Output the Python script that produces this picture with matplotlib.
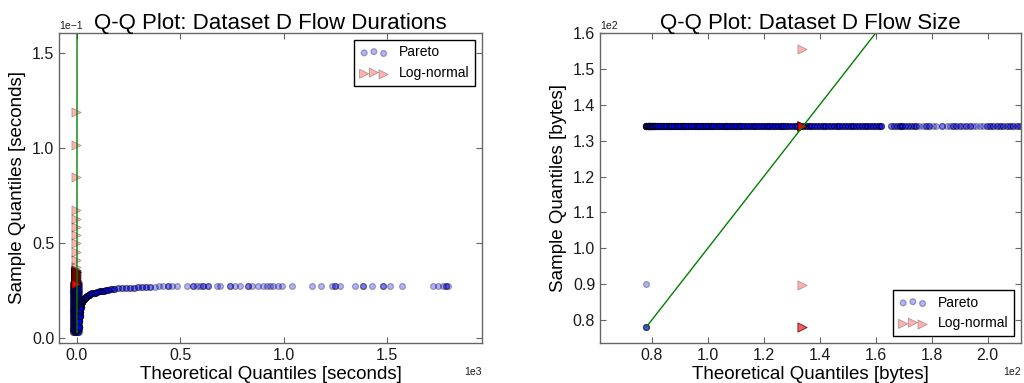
import numpy as np
import matplotlib
matplotlib.use("Agg")
import matplotlib.pyplot as plt

plt.rcParams['font.family'] = ['Liberation Sans', 'DejaVu Sans']

# ---------------- Left panel data (durations, seconds) ----------------
# dense cluster of Pareto points near x = 0
dur_band_x = [-21, -18, -15, -12, -9, -6, -3, 0, 3, 6, 9]
dur_band_y = [0.0030, 0.0040, 0.0050, 0.0060, 0.0070, 0.0080, 0.0090, 0.0100,
              0.0110, 0.0120, 0.0130, 0.0140, 0.0150, 0.0160, 0.0170, 0.0180,
              0.0190, 0.0200, 0.0210, 0.0220, 0.0230, 0.0240, 0.0250, 0.0260,
              0.0270, 0.0280, 0.0288]
# Pareto curve leaving the cluster
dur_curve_x = [11, 12, 13, 14, 15, 17, 19, 22, 26, 30, 35, 39, 45, 50, 57, 65,
               75, 87, 98, 110, 120, 130, 140, 150, 165, 180, 197, 216, 235,
               255, 275, 295, 315, 335, 355, 377, 395]
dur_curve_y = [0.0060, 0.0090, 0.0115, 0.0135, 0.0150, 0.0165, 0.0178, 0.0188,
               0.0196, 0.0202, 0.0207, 0.0212, 0.0218, 0.0222, 0.0227, 0.0231,
               0.0235, 0.0238, 0.0242, 0.0245, 0.0248, 0.0250, 0.0252, 0.0254,
               0.0257, 0.0259, 0.0261, 0.0263, 0.0264, 0.0265, 0.0266, 0.0267,
               0.0268, 0.0269, 0.0270, 0.0271, 0.0272]
dur_curve_n = [8, 8, 8, 8, 8, 8, 8, 8, 8, 7, 7, 7, 6, 6, 6, 5,
               5, 5, 4, 4, 3, 3, 3, 3, 3, 3, 2, 2, 2,
               2, 2, 2, 2, 2, 2, 1, 1]
# sparse Pareto tail
dur_tail_x = [418, 442, 458, 482, 531, 563, 579, 595, 611, 635, 676, 692, 740,
              764, 789, 829, 845, 877, 901, 918, 934, 950, 974, 990, 1039,
              1135, 1179, 1232, 1248, 1272, 1345, 1385, 1426, 1482, 1514,
              1571, 1722, 1747, 1771, 1785, 1795]
dur_tail_y = [0.0273, 0.0273, 0.0273, 0.0273, 0.0274, 0.0274, 0.0274, 0.0274,
              0.0274, 0.0274, 0.0274, 0.0274, 0.0274, 0.0274, 0.0275, 0.0275,
              0.0275, 0.0275, 0.0275, 0.0275, 0.0275, 0.0275, 0.0275, 0.0275,
              0.0275, 0.0275, 0.0275, 0.0275, 0.0275, 0.0275, 0.0275, 0.0275,
              0.0275, 0.0275, 0.0275, 0.0275, 0.0275, 0.0275, 0.0275, 0.0275,
              0.0275]
dur_tail_n = [1, 2, 1, 1, 1, 2, 1, 1, 2, 2, 1, 1, 2, 1, 1, 2, 1, 1, 1, 1, 1, 1,
              1, 1, 1, 1, 1, 1, 2, 1, 1, 2, 1, 2, 1, 1, 1, 1, 1, 2, 1]
# Log-normal points
dur_ln_x = [-7, -7, -7, -7, -7, -7, -7, -7, -7, -7, -7, -7,
            -7, -7, -7, -7, -7, -7, -7, -7, -7, -7, -7, -7, -7, -7, -7, -7]
dur_ln_y = [0.1188, 0.1016, 0.0846, 0.0674, 0.0625, 0.0586, 0.0544, 0.0498,
            0.0454, 0.0411, 0.0375, 0.0345,
            0.0360, 0.0355, 0.0350, 0.0345, 0.0340, 0.0335, 0.0330, 0.0325,
            0.0320, 0.0315, 0.0310, 0.0305, 0.0300, 0.0295, 0.0290, 0.0285]
dur_ln_n = [1, 1, 1, 1, 1, 1, 1, 1, 1, 1, 1, 1,
            2, 2, 3, 3, 3, 3, 3, 3, 3, 3, 3, 3, 3, 3, 3, 3]
dur_line = [0.003, 1800]

# ---------------- Right panel data (sizes, bytes) ----------------
size_par_x = [78, 78.5, 79, 79.5, 80, 80.5, 81, 82, 83, 84, 85, 86, 87, 88, 89,
              90, 91, 92, 93, 94, 95, 96, 97, 98, 99, 100, 101, 102, 103, 104,
              105, 106, 107, 108, 109, 110, 111, 112, 113, 114, 115, 116, 117,
              118, 119, 120, 121, 122, 123, 124, 125, 126, 127, 128, 129, 130,
              131, 132, 133, 134, 135, 136, 137, 138, 139, 140, 141, 142, 143,
              144, 145, 146, 147, 148, 149, 150, 151, 152, 153, 154, 155, 156,
              157, 158, 159, 160, 161, 162, 165.5, 166.5, 167.5, 168.5, 169.5,
              170.5, 171.5, 172.5, 173.5, 174.5, 175.5, 176.8, 178, 179.2,
              180.4, 181.6, 183.6, 185.3, 186.4, 187.6, 188.8, 190, 191.2,
              192.4, 193.6, 194.8, 196, 197.2, 198.4, 199.6, 200.8, 202, 203.2,
              204.4, 205.6, 206.8, 208, 209.2, 210.4, 211.6]
size_par_n = [10, 10, 10, 10, 10, 9, 9, 9, 8, 8, 8, 8, 7, 7, 7,
              7, 7, 7, 6, 6, 6, 6, 6, 6, 6, 6, 5, 5, 5, 5,
              5, 5, 5, 5, 5, 5, 5, 4, 4, 4, 4, 4, 4,
              4, 4, 4, 4, 4, 4, 4, 4, 4, 4, 4, 3, 3,
              3, 3, 3, 3, 3, 3, 3, 3, 3, 3, 3, 3, 3,
              3, 3, 3, 3, 3, 3, 3, 3, 3, 3, 3, 3, 3,
              3, 3, 3, 3, 3, 3, 2, 2, 2, 3, 3,
              2, 2, 2, 2, 2, 1, 1, 2, 2,
              1, 1, 2, 1, 1, 2, 2, 2, 1,
              2, 2, 1, 1, 1, 1, 2, 2, 2, 2,
              2, 2, 2, 2, 2, 2, 2]
size_par_level = 134.0
size_par_low_x = [78, 78]
size_par_low_y = [90.0, 78.0]
size_par_low_n = [1, 3]
size_ln_x = [133.7, 133.7, 133.7, 133.7]
size_ln_y = [155.6, 134.0, 89.9, 78.0]
size_ln_n = [1, 8, 1, 3]
size_line = [78, 215]

# ---------------- Drawing ----------------
fig = plt.figure(figsize=(10.24, 3.83), dpi=100)
axL = fig.add_axes([59/1024, 1-343/383, 423/1024, 310/383])
axR = fig.add_axes([600/1024, 1-343/383, 421/1024, 310/383])

par_kw = dict(s=18, c='b', alpha=0.3, edgecolors='k', linewidths=0.9, marker='o')
ln_kw = dict(s=44, c='r', alpha=0.3, edgecolors='k', linewidths=0.6, marker='>')

# Left
bx, by = np.meshgrid(dur_band_x, dur_band_y)
px = np.concatenate([bx.ravel(), np.repeat(dur_curve_x, dur_curve_n),
                     np.repeat(dur_tail_x, dur_tail_n)])
py = np.concatenate([by.ravel(), np.repeat(dur_curve_y, dur_curve_n),
                     np.repeat(dur_tail_y, dur_tail_n)])
axL.scatter(px, py, label='Pareto', **par_kw)
axL.scatter(np.repeat(dur_ln_x, dur_ln_n), np.repeat(dur_ln_y, dur_ln_n),
            label='Log-normal', **ln_kw)
axL.plot(dur_line, dur_line, color='g', lw=1)
axL.set_xlim(-87, 1959)
axL.set_ylim(-0.0026, 0.1605)
axL.set_xticks([0, 500, 1000, 1500])
axL.set_yticks([0, 0.05, 0.10, 0.15])
axL.set_title('Q-Q Plot: Dataset D Flow Durations', fontsize=16, pad=3)
axL.set_xlabel('Theoretical Quantiles [seconds]', fontsize=13.5, labelpad=2)
axL.set_ylabel('Sample Quantiles [seconds]', fontsize=13.5)
axL.legend(loc='upper right', scatterpoints=3,
           scatteryoffsets=[0.375, 0.5, 0.3125], fontsize=10,
           fancybox=False, framealpha=1, edgecolor='k',
           borderaxespad=0.5)

# Right
rx = np.concatenate([np.repeat(size_par_x, size_par_n),
                     np.repeat(size_par_low_x, size_par_low_n)])
ry = np.concatenate([np.full(int(np.sum(size_par_n)), size_par_level),
                     np.repeat(size_par_low_y, size_par_low_n)])
axR.scatter(rx, ry, label='Pareto', **par_kw)
axR.scatter(np.repeat(size_ln_x, size_ln_n), np.repeat(size_ln_y, size_ln_n),
            label='Log-normal', **ln_kw)
axR.plot(size_line, size_line, color='g', lw=1)
axR.set_xlim(61.5, 211.9)
axR.set_ylim(73.6, 160)
axR.set_xticks([80, 100, 120, 140, 160, 180, 200])
axR.set_yticks([80, 90, 100, 110, 120, 130, 140, 150, 160])
axR.set_title('Q-Q Plot: Dataset D Flow Size', fontsize=16, pad=3)
axR.set_xlabel('Theoretical Quantiles [bytes]', fontsize=13.5, labelpad=2)
axR.set_ylabel('Sample Quantiles [bytes]', fontsize=13.5)
axR.legend(loc='lower right', scatterpoints=3,
           scatteryoffsets=[0.375, 0.5, 0.3125], fontsize=10,
           fancybox=False, framealpha=1, edgecolor='k',
           borderaxespad=0.5)

for ax in (axL, axR):
    ax.ticklabel_format(style='sci', scilimits=(0, 0), axis='both')
    ax.tick_params(direction='in', length=4, width=0.8, top=True, right=True,
                   labelsize=11.5, color='0.4', labelcolor='0.1')
    for sp in ax.spines.values():
        sp.set_color('0.4')
        sp.set_linewidth(1.0)
    ax.xaxis.get_offset_text().set_fontsize(7.5)
    ax.yaxis.get_offset_text().set_fontsize(7.5)

fig.savefig('out.png', dpi=100)
